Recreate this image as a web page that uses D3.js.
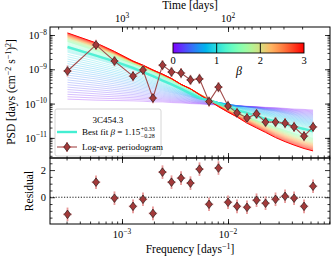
<!DOCTYPE html>
<html>
<head>
<meta charset="utf-8">
<script src="https://cdn.jsdelivr.net/npm/d3@7"></script>
<style>
body { margin: 0; background: #fff; }
svg { display: block; font-family: "Liberation Serif", "DejaVu Serif", serif; }
</style>
</head>
<body>
<div id="chart"></div>
<script>
// log10 frequency [days^-1] of the log-averaged periodogram bins
var freqLog = [-3.514, -3.245, -3.071, -2.896, -2.802, -2.708, -2.618, -2.533, -2.443, -2.354, -2.269, -2.179,
               -2.090, -2.000, -1.915, -1.821, -1.731, -1.646, -1.552, -1.462, -1.377, -1.283, -1.198];
// log10 PSD of the periodogram
var psdLog = [-9.05, -8.29, -8.76, -9.20, -9.02, -9.84, -8.88, -9.08, -9.11, -9.31, -9.28, -9.94,
              -9.52, -10.07, -10.27, -10.42, -10.30, -10.54, -10.54, -10.57, -10.68, -10.95, -10.68];
var psdErrLog = [0.16, 0.15, 0.15, 0.15, 0.15, 0.15, 0.15, 0.15, 0.15, 0.15, 0.15, 0.15,
                 0.15, 0.15, 0.15, 0.15, 0.15, 0.15, 0.15, 0.15, 0.15, 0.15, 0.15];
var freqErrLog = [0.04, 0.04, 0.04, 0.04, 0.04, 0.04, 0.04, 0.04, 0.04, 0.04, 0.04, 0.04,
                  0.04, 0.04, 0.04, 0.04, 0.04, 0.04, 0.04, 0.04, 0.04, 0.04, 0.04];
var residual = [-1.26, 1.11, -0.07, -0.67, -0.15, -1.19, 1.85, 1.11, 1.41, 1.04, 2.07, -0.52,
                2.15, -0.37, -0.67, -0.74, -0.22, -0.44, -0.15, 0.07, -0.07, -0.67, 0.81];
var residualErr = [0.5, 0.5, 0.5, 0.5, 0.5, 0.5, 0.5, 0.5, 0.5, 0.5, 0.5, 0.5,
                   0.5, 0.5, 0.5, 0.5, 0.5, 0.5, 0.5, 0.5, 0.5, 0.5, 0.5];

// simulated model PSDs (log10) at a few beta values
var modelBetas = [0, 0.5, 1, 1.5, 2, 3];
var model0 = [-9.87, -9.90, -9.91, -9.92, -9.93, -9.95, -9.95, -9.97, -9.98, -10.00, -10.01, -10.03,
              -10.04, -10.06, -10.07, -10.08, -10.09, -10.11, -10.12, -10.14, -10.16, -10.17, -10.19];
var model05 = [-9.17, -9.28, -9.37, -9.46, -9.52, -9.57, -9.63, -9.69, -9.75, -9.81, -9.87, -9.92,
               -9.97, -10.01, -10.06, -10.10, -10.14, -10.19, -10.23, -10.29, -10.35, -10.41, -10.45];
var model1 = [-8.50, -8.71, -8.86, -9.02, -9.12, -9.23, -9.34, -9.46, -9.57, -9.69, -9.81, -9.88,
              -9.97, -10.04, -10.13, -10.22, -10.29, -10.36, -10.43, -10.51, -10.58, -10.65, -10.71];
var model15 = [-8.20, -8.47, -8.66, -8.85, -8.96, -9.08, -9.21, -9.33, -9.47, -9.60, -9.74, -9.87,
               -10.00, -10.13, -10.25, -10.38, -10.48, -10.58, -10.68, -10.77, -10.86, -10.93, -11.00];
var model2 = [-8.09, -8.36, -8.57, -8.80, -8.92, -9.04, -9.17, -9.28, -9.44, -9.57, -9.72, -9.87,
              -10.03, -10.17, -10.30, -10.43, -10.55, -10.67, -10.78, -10.89, -10.99, -11.08, -11.15];
var model3 = [-7.94, -8.23, -8.48, -8.76, -8.88, -9.02, -9.14, -9.27, -9.44, -9.57, -9.74, -9.91,
              -10.09, -10.25, -10.39, -10.57, -10.71, -10.84, -10.99, -11.11, -11.21, -11.31, -11.38];
var bestBeta = 1.15;
var bestFit = [-8.35, -8.60, -8.77, -8.96, -9.08, -9.20, -9.33, -9.44, -9.57, -9.71, -9.84, -9.90,
               -10.01, -10.10, -10.19, -10.27, -10.36, -10.45, -10.52, -10.60, -10.67, -10.74, -10.81];

var freqMajor = [1e-3, 1e-2];
var psdMajor = [1e-8, 1e-9, 1e-10, 1e-11];
var timeMajor = [1000, 100];
var residMajor = [0, 2];
var cbarTicks = [0, 1, 2, 3];

var W = 332, H = 257;
var L = 50, R = 330, T = 27, M = 158, B = 224;

var svg = d3.select("#chart").append("svg").attr("width", W).attr("height", H);

var x = d3.scaleLog().domain([2.094e-4, 9.16e-2]).range([L, R]);
var y = d3.scaleLog().domain([1.71e-8, 2.59e-12]).range([T, M]);
var yr = d3.scaleLinear().domain([-1.97, 2.89]).range([B, M]);

function rainbow(t) {
    var r = Math.min(1, Math.abs(2 * t - 0.5)), g = Math.max(0, Math.sin(Math.PI * t)),
        b = Math.max(0, Math.cos(Math.PI * t / 2));
    return d3.rgb(r * 255, g * 255, b * 255).formatHex();
}
var p10 = function(v) { return Math.pow(10, v); };

// model family
var anchors = [model0, model05, model1, model15, model2, model3];
var curves = [];
for (var k = 0; k <= 60; k++) {
    var beta = k * 0.05;
    var j = 0;
    while (j < modelBetas.length - 2 && beta > modelBetas[j + 1]) j++;
    var t = (beta - modelBetas[j]) / (modelBetas[j + 1] - modelBetas[j]);
    curves.push({beta: beta, v: d3.interpolate(anchors[j], anchors[j + 1])(t)});
}

svg.append("clipPath").attr("id", "clipTop").append("rect")
    .attr("x", L).attr("y", T).attr("width", R - L).attr("height", M - T);

var line = d3.line()
    .x(function(d, i) { return x(p10(freqLog[i])); })
    .y(function(d) { return y(p10(d)); });

var gTop = svg.append("g").attr("clip-path", "url(#clipTop)");
gTop.selectAll("path.model").data(curves).enter().append("path")
    .attr("class", "model")
    .attr("d", function(d) { return line(d.v); })
    .attr("fill", "none")
    .attr("stroke", function(d) { return rainbow(d.beta / 3); })
    .attr("stroke-width", function(d) { return d.beta === 3 ? 1 : 0.5; })
    .attr("stroke-opacity", function(d) { return d.beta === 3 ? 1 : 0.55; });

gTop.append("path").attr("d", line(bestFit)).attr("fill", "none")
    .attr("stroke", rainbow(bestBeta / 3)).attr("stroke-width", 2.4).attr("stroke-opacity", 0.9);

// periodogram
gTop.append("path").attr("d", line(psdLog)).attr("fill", "none")
    .attr("stroke", "#a24a4a").attr("stroke-width", 1.1);

function diamond(g, cx, cy) {
    g.append("path")
        .attr("d", "M" + cx + "," + (cy - 4.3) + "L" + (cx + 3.3) + "," + cy + "L" + cx + "," + (cy + 4.3) + "L" + (cx - 3.3) + "," + cy + "Z")
        .attr("fill", "#a33a3a").attr("stroke", "#111").attr("stroke-width", 0.6);
}
function errCross(g, x1, x2, cx, y1, y2, cy) {
    g.append("line").attr("x1", x1).attr("x2", x2).attr("y1", cy).attr("y2", cy)
        .attr("stroke", "#e48787").attr("stroke-width", 1.8).attr("stroke-opacity", 0.85);
    g.append("line").attr("x1", cx).attr("x2", cx).attr("y1", y1).attr("y2", y2)
        .attr("stroke", "#e48787").attr("stroke-width", 1.8).attr("stroke-opacity", 0.85);
}

psdLog.forEach(function(v, i) {
    var cx = x(p10(freqLog[i])), cy = y(p10(v));
    errCross(gTop, x(p10(freqLog[i] - freqErrLog[i])), x(p10(freqLog[i] + freqErrLog[i])), cx,
        y(p10(v - psdErrLog[i])), y(p10(v + psdErrLog[i])), cy);
});
psdLog.forEach(function(v, i) { diamond(gTop, x(p10(freqLog[i])), y(p10(v))); });

// residual panel
var gRes = svg.append("g");
gRes.append("line").attr("x1", L).attr("x2", R).attr("y1", yr(0)).attr("y2", yr(0))
    .attr("stroke", "#000").attr("stroke-width", 0.9).attr("stroke-dasharray", "1.2,1.6");
residual.forEach(function(v, i) {
    var cx = x(p10(freqLog[i])), cy = yr(v);
    errCross(gRes, x(p10(freqLog[i] - freqErrLog[i])), x(p10(freqLog[i] + freqErrLog[i])), cx,
        yr(v - residualErr[i]), yr(v + residualErr[i]), cy);
});
residual.forEach(function(v, i) { diamond(gRes, x(p10(freqLog[i])), yr(v)); });

// ticks
function logMinor(lo, hi) {
    var out = [];
    for (var d = Math.floor(Math.log10(lo)) - 1; d <= Math.ceil(Math.log10(hi)); d++)
        for (var m = 1; m < 10; m++) {
            var v = m * Math.pow(10, d);
            if (v >= lo && v <= hi) out.push(v);
        }
    return out;
}
function ticks(axisFn, scale, vals, size, tr) {
    var g = svg.append("g").attr("transform", tr)
        .call(axisFn(scale).tickValues(vals).tickSize(size).tickFormat(""));
    g.select(".domain").remove();
    g.selectAll("line").attr("stroke", "#000").attr("stroke-width", 0.8);
}
var fMinor = logMinor(2.094e-4, 9.16e-2);
var pMinor = logMinor(2.59e-12, 1.71e-8);

// bottom of top panel (inward), top and bottom of residual panel
ticks(d3.axisBottom, x, fMinor, -2.5, "translate(0," + M + ")");
ticks(d3.axisBottom, x, freqMajor, -5, "translate(0," + M + ")");
ticks(d3.axisTop, x, fMinor, -2.5, "translate(0," + M + ")");
ticks(d3.axisTop, x, freqMajor, -5, "translate(0," + M + ")");
ticks(d3.axisBottom, x, fMinor, -2.5, "translate(0," + B + ")");
ticks(d3.axisBottom, x, freqMajor, -5, "translate(0," + B + ")");

// time axis on top
var timeMinor = [];
[10, 100, 1000].forEach(function(d) {
    for (var m = 1; m < 10; m++) {
        var f = 1 / (m * d);
        if (f >= 2.094e-4 && f <= 9.16e-2) timeMinor.push(f);
    }
});
ticks(d3.axisTop, x, timeMinor, -2.5, "translate(0," + T + ")");
ticks(d3.axisTop, x, timeMajor.map(function(t) { return 1 / t; }), -5, "translate(0," + T + ")");

// y ticks
ticks(d3.axisLeft, y, pMinor, -2.5, "translate(" + L + ",0)");
ticks(d3.axisLeft, y, psdMajor, -5, "translate(" + L + ",0)");
ticks(d3.axisRight, y, pMinor, -2.5, "translate(" + R + ",0)");
ticks(d3.axisRight, y, psdMajor, -5, "translate(" + R + ",0)");
var rMinor = [-1.5, -1, -0.5, 0.5, 1, 1.5, 2.5];
ticks(d3.axisLeft, yr, rMinor, -2.5, "translate(" + L + ",0)");
ticks(d3.axisLeft, yr, residMajor, -5, "translate(" + L + ",0)");
ticks(d3.axisRight, yr, rMinor, -2.5, "translate(" + R + ",0)");
ticks(d3.axisRight, yr, residMajor, -5, "translate(" + R + ",0)");

// frames
[[T, M], [M, B]].forEach(function(p) {
    svg.append("rect").attr("x", L).attr("y", p[0]).attr("width", R - L).attr("height", p[1] - p[0])
        .attr("fill", "none").attr("stroke", "#000").attr("stroke-width", 1);
});

// tick labels
function powLabel(px, py, base, exp, anchor, size) {
    var t = svg.append("text").attr("x", px).attr("y", py).attr("text-anchor", anchor)
        .attr("font-size", size).attr("fill", "#000");
    t.append("tspan").text(base);
    t.append("tspan").attr("dy", -size * 0.42).attr("font-size", size * 0.7).text(exp);
}
freqMajor.forEach(function(f) {
    powLabel(x(f), 238, "10", "\u2212" + Math.round(-Math.log10(f)), "middle", 10.5);
});
timeMajor.forEach(function(t) {
    powLabel(x(1 / t), 22, "10", String(Math.round(Math.log10(t))), "middle", 10.5);
});
psdMajor.forEach(function(p) {
    powLabel(47, y(p) + 4, "10", "\u2212" + Math.round(-Math.log10(p)), "end", 10.5);
});
residMajor.forEach(function(r) {
    svg.append("text").attr("x", 46).attr("y", yr(r) + 4).attr("text-anchor", "end")
        .attr("font-size", 10.5).text(r);
});

// axis titles
svg.append("text").attr("x", 190).attr("y", 9).attr("text-anchor", "middle").attr("font-size", 11.5)
    .text("Time [days]");
var fx = svg.append("text").attr("x", 190).attr("y", 253).attr("text-anchor", "middle").attr("font-size", 11.5);
fx.append("tspan").text("Frequency [days");
fx.append("tspan").attr("dy", -4.5).attr("font-size", 8).text("\u22121");
fx.append("tspan").attr("dy", 4.5).text("]");

var py = svg.append("text").attr("transform", "translate(15,92) rotate(-90)").attr("text-anchor", "middle")
    .attr("font-size", 11.5);
py.append("tspan").text("PSD [days (cm");
py.append("tspan").attr("dy", -4.5).attr("font-size", 8).text("\u22122");
py.append("tspan").attr("dy", 4.5).text(" s");
py.append("tspan").attr("dy", -4.5).attr("font-size", 8).text("\u22121");
py.append("tspan").attr("dy", 4.5).text(")");
py.append("tspan").attr("dy", -4.5).attr("font-size", 8).text("2");
py.append("tspan").attr("dy", 4.5).text("]");

svg.append("text").attr("transform", "translate(33,191) rotate(-90)").attr("text-anchor", "middle")
    .attr("font-size", 11.5).text("Residual");

// colorbar
var cb = {x0: 173, x1: 304, y0: 43, y1: 53};
var cbx = d3.scaleLinear().domain([0, 3]).range([cb.x0, cb.x1]);
var grad = svg.append("defs").append("linearGradient").attr("id", "rb");
d3.range(0, 1.0001, 0.05).forEach(function(t) {
    grad.append("stop").attr("offset", t).attr("stop-color", rainbow(t));
});
svg.append("rect").attr("x", cb.x0).attr("y", cb.y0).attr("width", cb.x1 - cb.x0).attr("height", cb.y1 - cb.y0)
    .attr("fill", "url(#rb)").attr("stroke", "#000").attr("stroke-width", 0.9);
[1, 2].forEach(function(b) {
    svg.append("line").attr("x1", cbx(b)).attr("x2", cbx(b)).attr("y1", cb.y0).attr("y2", cb.y1)
        .attr("stroke", "#000").attr("stroke-width", 0.9);
});
cbarTicks.forEach(function(b) {
    svg.append("text").attr("x", cbx(b)).attr("y", 64).attr("text-anchor", "middle").attr("font-size", 10.5).text(b);
});
svg.append("text").attr("x", 239).attr("y", 75).attr("text-anchor", "middle").attr("font-size", 12)
    .attr("font-style", "italic").text("\u03b2");

// legend
var lg = svg.append("g");
lg.append("rect").attr("x", 55).attr("y", 109).attr("width", 106).attr("height", 47).attr("rx", 2)
    .attr("fill", "#fff").attr("fill-opacity", 0.85).attr("stroke", "#cccccc").attr("stroke-width", 0.8);
lg.append("text").attr("x", 108).attr("y", 123).attr("text-anchor", "middle").attr("font-size", 9).text("3C454.3");
lg.append("line").attr("x1", 57).attr("x2", 77).attr("y1", 132).attr("y2", 132)
    .attr("stroke", rainbow(bestBeta / 3)).attr("stroke-width", 2.4);
var bt = lg.append("text").attr("x", 82).attr("y", 135).attr("font-size", 9);
bt.append("tspan").text("Best fit ");
bt.append("tspan").attr("font-style", "italic").text("\u03b2");
bt.append("tspan").text(" = 1.15");
var bw = bt.node().getComputedTextLength();
lg.append("text").attr("x", 82 + bw + 0.5).attr("y", 131).attr("font-size", 6).text("+0.33");
lg.append("text").attr("x", 82 + bw + 0.5).attr("y", 138).attr("font-size", 6).text("\u22120.28");
lg.append("line").attr("x1", 57).attr("x2", 77).attr("y1", 147).attr("y2", 147)
    .attr("stroke", "#a24a4a").attr("stroke-width", 1.1);
errCross(lg, 62, 72, 67, 142, 152, 147);
diamond(lg, 67, 147);
lg.append("text").attr("x", 82).attr("y", 150).attr("font-size", 9).text("Log-avg. periodogram");
</script>
</body>
</html>
